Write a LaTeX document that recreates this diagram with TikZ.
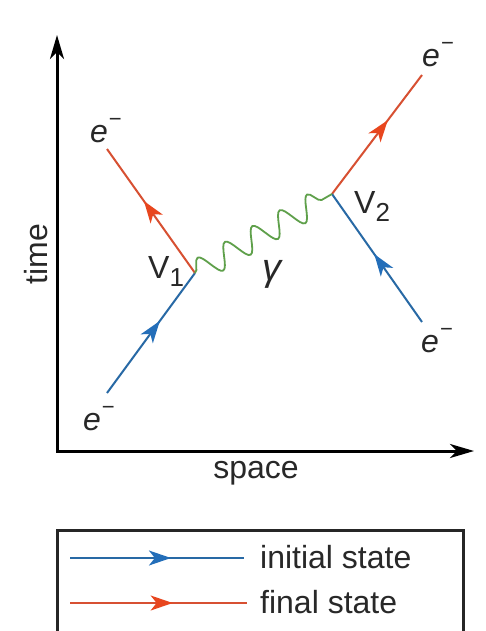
\documentclass[tikz,border=0pt]{standalone}
\usepackage{fontspec}
\setmainfont{Liberation Sans}
\usetikzlibrary{arrows.meta,decorations.markings,decorations.pathmorphing}
\definecolor{eblue}{RGB}{40,105,165}
\definecolor{ered}{RGB}{215,80,50}
\definecolor{eredtip}{RGB}{232,70,30}
\definecolor{ebluetip}{RGB}{35,110,185}
\definecolor{egreen}{RGB}{95,160,75}
\definecolor{txt}{RGB}{40,40,40}
\newcommand{\elec}{\textit{e}\hspace{1pt}\raisebox{0.5em}{\fontsize{22}{22}\selectfont −}}
\newcommand{\vlab}[1]{V\raisebox{-0.28em}{\fontsize{26}{26}\selectfont #1}}
\tikzset{
  axis/.style={line width=3pt, black, {Stealth[length=24pt,width=14pt,inset=7pt]}-{Stealth[length=24pt,width=14pt,inset=7pt]}},
  blueline/.style={eblue, line width=2pt, postaction={decorate}, decoration={markings,
     mark=at position #1 with {\arrow[ebluetip]{Stealth[length=22pt,width=15pt,inset=6pt]}}}},
  redline/.style={ered, line width=2pt, postaction={decorate}, decoration={markings,
     mark=at position #1 with {\arrow[eredtip]{Stealth[length=22pt,width=15pt,inset=6pt]}}}},
  photon/.style={egreen, line width=1.8pt, decorate, decoration={snake, segment length=31.6pt, amplitude=12pt}},
  lab/.style={inner sep=0pt, text=txt, font=\fontsize{32}{38}\selectfont},
  legbox/.style={line width=2.5pt, draw=black!85},
}
\begin{document}
\begin{tikzpicture}[x=1pt,y=-1pt]
\useasboundingbox (0,0) rectangle (486,631);
\fill[white] (0,0) rectangle (486,631);
% axes
\coordinate (O) at (57,451);
\coordinate (T) at (57,35);
\coordinate (S) at (474,451);
\draw[axis] (T) -- (O) -- (S);
\node[lab, rotate=90] (time) at (36,254) {time};
\node[lab] (space) at (256,473) {space};
% vertices and ends
\coordinate (V1) at (195,273);
\coordinate (V2) at (332,194);
\coordinate (a1) at (107,393);
\coordinate (b1) at (107,149);
\coordinate (a2) at (422,322);
\coordinate (b2) at (422,75);
\draw[blueline=0.6] (a1) -- (V1);
\draw[redline=0.58] (V1) -- (b1);
\draw[redline=0.62] (V2) -- (b2);
\draw[blueline=0.53] (a2) -- (V2);
\draw[photon] (V1) -- (V2);
% labels
\node[lab, anchor=base west] (e1) at (90,143) {\elec};
\node[lab, anchor=base west] (e2) at (83,430) {\elec};
\node[lab, anchor=base west] (e3) at (422,67) {\elec};
\node[lab, anchor=base west] (e4) at (421,352) {\elec};
\node[lab, anchor=base west] (v1l) at (148,278) {\vlab{1}};
\node[lab, anchor=base west] (v2l) at (354,213) {\vlab{2}};
\node[lab, font=\fontsize{38}{40}\selectfont] (gam) at (273,274) {\textit{γ}};
% legend
\node[legbox, draw, minimum width=406pt, minimum height=102pt, anchor=north west, inner sep=0pt] (leg) at (56,529) {};
\coordinate (l1a) at (70,558);
\coordinate (l1b) at (244,558);
\coordinate (l2a) at (70,603);
\coordinate (l2b) at (247,603);
\draw[blueline=0.58] (l1a) -- (l1b);
\draw[redline=0.58] (l2a) -- (l2b);
\node[lab, anchor=west] (init) at (260,557) {initial state};
\node[lab, anchor=west] (fin) at (260,602) {final state};
\end{tikzpicture}
\end{document}
